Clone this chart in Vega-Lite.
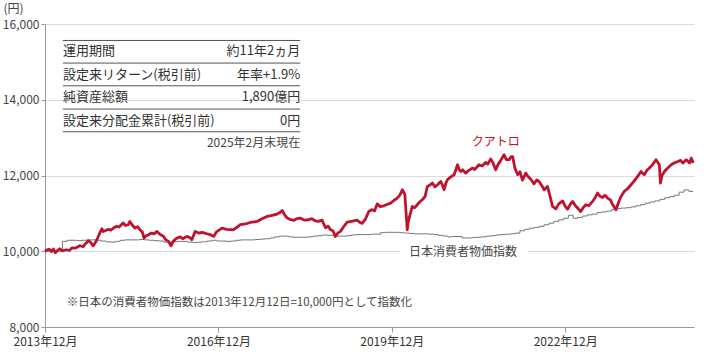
{
  "$schema": "https://vega.github.io/schema/vega-lite/v6.json",
  "width": 649,
  "height": 303,
  "autosize": {"type": "none"},
  "padding": {"left": 45, "top": 24, "right": 10, "bottom": 29},
  "config": {"view": {"stroke": null}, "font": "Noto Sans CJK JP"},
  "datasets": {
    "fund": [
      {"d": "2013-12-12", "v": 10000}, {"d": "2013-12-28", "v": 10040}, {"d": "2014-01-10", "v": 10050}, {"d": "2014-01-22", "v": 9990},
      {"d": "2014-02-03", "v": 10058}, {"d": "2014-02-15", "v": 9960}, {"d": "2014-03-01", "v": 10020}, {"d": "2014-03-15", "v": 10066},
      {"d": "2014-04-01", "v": 10010}, {"d": "2014-04-27", "v": 10040}, {"d": "2014-05-15", "v": 10020}, {"d": "2014-06-01", "v": 10090},
      {"d": "2014-06-20", "v": 10080}, {"d": "2014-07-20", "v": 10145}, {"d": "2014-08-10", "v": 10120}, {"d": "2014-08-25", "v": 10200},
      {"d": "2014-09-12", "v": 10277}, {"d": "2014-09-25", "v": 10240}, {"d": "2014-10-13", "v": 10145}, {"d": "2014-10-25", "v": 10220},
      {"d": "2014-11-05", "v": 10304}, {"d": "2014-11-20", "v": 10450}, {"d": "2014-12-06", "v": 10594}, {"d": "2014-12-15", "v": 10520},
      {"d": "2014-12-27", "v": 10541}, {"d": "2015-01-15", "v": 10580}, {"d": "2015-02-01", "v": 10560}, {"d": "2015-02-18", "v": 10612},
      {"d": "2015-03-10", "v": 10660}, {"d": "2015-03-25", "v": 10640}, {"d": "2015-04-20", "v": 10744}, {"d": "2015-05-05", "v": 10680},
      {"d": "2015-05-22", "v": 10700}, {"d": "2015-06-01", "v": 10787}, {"d": "2015-06-15", "v": 10700}, {"d": "2015-07-03", "v": 10612},
      {"d": "2015-07-20", "v": 10650}, {"d": "2015-08-04", "v": 10568}, {"d": "2015-08-20", "v": 10500}, {"d": "2015-08-30", "v": 10348},
      {"d": "2015-09-10", "v": 10400}, {"d": "2015-09-27", "v": 10436}, {"d": "2015-10-15", "v": 10480}, {"d": "2015-11-01", "v": 10460},
      {"d": "2015-11-19", "v": 10524}, {"d": "2015-12-10", "v": 10440}, {"d": "2016-01-01", "v": 10392}, {"d": "2016-01-15", "v": 10300},
      {"d": "2016-02-01", "v": 10260}, {"d": "2016-02-16", "v": 10145}, {"d": "2016-03-01", "v": 10260}, {"d": "2016-03-24", "v": 10348},
      {"d": "2016-04-15", "v": 10380}, {"d": "2016-05-01", "v": 10330}, {"d": "2016-05-26", "v": 10392}, {"d": "2016-06-15", "v": 10360},
      {"d": "2016-06-27", "v": 10304}, {"d": "2016-07-18", "v": 10524}, {"d": "2016-08-10", "v": 10480}, {"d": "2016-09-01", "v": 10500},
      {"d": "2016-09-30", "v": 10462}, {"d": "2016-10-20", "v": 10440}, {"d": "2016-11-12", "v": 10392}, {"d": "2016-12-01", "v": 10520},
      {"d": "2017-01-04", "v": 10612}, {"d": "2017-02-01", "v": 10580}, {"d": "2017-03-17", "v": 10568}, {"d": "2017-04-10", "v": 10640},
      {"d": "2017-04-29", "v": 10700}, {"d": "2017-06-01", "v": 10720}, {"d": "2017-07-01", "v": 10760}, {"d": "2017-08-13", "v": 10787},
      {"d": "2017-09-10", "v": 10850}, {"d": "2017-10-15", "v": 10919}, {"d": "2017-11-10", "v": 10940}, {"d": "2017-12-18", "v": 10982},
      {"d": "2018-01-05", "v": 11020}, {"d": "2018-01-19", "v": 11077}, {"d": "2018-02-05", "v": 10950}, {"d": "2018-02-20", "v": 10876},
      {"d": "2018-03-10", "v": 10840}, {"d": "2018-04-01", "v": 10813}, {"d": "2018-04-20", "v": 10860}, {"d": "2018-05-13", "v": 10876},
      {"d": "2018-06-10", "v": 10820}, {"d": "2018-07-05", "v": 10832}, {"d": "2018-07-25", "v": 10860}, {"d": "2018-08-17", "v": 10800},
      {"d": "2018-09-05", "v": 10790}, {"d": "2018-09-28", "v": 10820}, {"d": "2018-10-19", "v": 10620}, {"d": "2018-11-05", "v": 10660},
      {"d": "2018-11-20", "v": 10568}, {"d": "2018-12-05", "v": 10540}, {"d": "2018-12-21", "v": 10390}, {"d": "2019-01-05", "v": 10480},
      {"d": "2019-01-22", "v": 10524}, {"d": "2019-02-10", "v": 10640}, {"d": "2019-03-05", "v": 10770}, {"d": "2019-04-01", "v": 10790},
      {"d": "2019-05-07", "v": 10820}, {"d": "2019-05-25", "v": 10760}, {"d": "2019-06-08", "v": 10735}, {"d": "2019-06-29", "v": 10850},
      {"d": "2019-07-20", "v": 11050}, {"d": "2019-08-10", "v": 11100}, {"d": "2019-08-25", "v": 11060}, {"d": "2019-09-11", "v": 11250},
      {"d": "2019-10-01", "v": 11180}, {"d": "2019-10-23", "v": 11200}, {"d": "2019-11-15", "v": 11240}, {"d": "2019-12-05", "v": 11272},
      {"d": "2019-12-25", "v": 11340}, {"d": "2020-01-16", "v": 11404}, {"d": "2020-02-01", "v": 11480}, {"d": "2020-02-17", "v": 11624},
      {"d": "2020-03-04", "v": 11492}, {"d": "2020-03-12", "v": 11000}, {"d": "2020-03-19", "v": 10568}, {"d": "2020-03-26", "v": 10800},
      {"d": "2020-04-03", "v": 10919}, {"d": "2020-04-20", "v": 11183}, {"d": "2020-05-05", "v": 11150}, {"d": "2020-05-21", "v": 11228},
      {"d": "2020-06-05", "v": 11300}, {"d": "2020-06-22", "v": 11360}, {"d": "2020-07-10", "v": 11450}, {"d": "2020-07-24", "v": 11711},
      {"d": "2020-08-10", "v": 11750}, {"d": "2020-08-25", "v": 11800}, {"d": "2020-09-10", "v": 11700}, {"d": "2020-09-26", "v": 11756},
      {"d": "2020-10-17", "v": 11843}, {"d": "2020-11-01", "v": 11700}, {"d": "2020-11-07", "v": 11624}, {"d": "2020-11-18", "v": 11800},
      {"d": "2020-11-28", "v": 11888}, {"d": "2020-12-15", "v": 11950}, {"d": "2021-01-09", "v": 12020}, {"d": "2021-01-20", "v": 12150},
      {"d": "2021-01-31", "v": 12284}, {"d": "2021-02-10", "v": 12150}, {"d": "2021-02-21", "v": 12107}, {"d": "2021-03-05", "v": 12150},
      {"d": "2021-03-23", "v": 12063}, {"d": "2021-04-10", "v": 12130}, {"d": "2021-05-04", "v": 12196}, {"d": "2021-05-20", "v": 12160},
      {"d": "2021-06-15", "v": 12284}, {"d": "2021-07-05", "v": 12250}, {"d": "2021-07-27", "v": 12344}, {"d": "2021-08-10", "v": 12300},
      {"d": "2021-08-28", "v": 12434}, {"d": "2021-09-10", "v": 12350}, {"d": "2021-09-29", "v": 12152}, {"d": "2021-10-15", "v": 12300},
      {"d": "2021-10-31", "v": 12400}, {"d": "2021-11-21", "v": 12548}, {"d": "2021-12-05", "v": 12420}, {"d": "2021-12-23", "v": 12420},
      {"d": "2022-01-05", "v": 12500}, {"d": "2022-01-14", "v": 12500}, {"d": "2022-01-28", "v": 12200}, {"d": "2022-02-15", "v": 12020},
      {"d": "2022-03-01", "v": 12100}, {"d": "2022-03-17", "v": 11880}, {"d": "2022-04-07", "v": 12063}, {"d": "2022-04-20", "v": 11980},
      {"d": "2022-05-09", "v": 11900}, {"d": "2022-05-29", "v": 11780}, {"d": "2022-06-15", "v": 11880}, {"d": "2022-06-30", "v": 11843},
      {"d": "2022-07-15", "v": 11750}, {"d": "2022-08-01", "v": 11624}, {"d": "2022-08-22", "v": 11711}, {"d": "2022-09-05", "v": 11492},
      {"d": "2022-09-23", "v": 11183}, {"d": "2022-10-14", "v": 11120}, {"d": "2022-11-01", "v": 11250}, {"d": "2022-11-26", "v": 11330},
      {"d": "2022-12-10", "v": 11200}, {"d": "2022-12-27", "v": 11110}, {"d": "2023-01-15", "v": 11250}, {"d": "2023-01-28", "v": 11315},
      {"d": "2023-02-15", "v": 11200}, {"d": "2023-03-01", "v": 11140}, {"d": "2023-03-20", "v": 11051}, {"d": "2023-04-05", "v": 11150},
      {"d": "2023-04-21", "v": 11228}, {"d": "2023-05-10", "v": 11200}, {"d": "2023-06-03", "v": 11315}, {"d": "2023-06-20", "v": 11420},
      {"d": "2023-07-04", "v": 11536}, {"d": "2023-07-20", "v": 11450}, {"d": "2023-08-05", "v": 11420}, {"d": "2023-08-20", "v": 11480},
      {"d": "2023-09-06", "v": 11404}, {"d": "2023-09-25", "v": 11350}, {"d": "2023-10-08", "v": 11228}, {"d": "2023-10-29", "v": 11096},
      {"d": "2023-11-15", "v": 11300}, {"d": "2023-11-30", "v": 11448}, {"d": "2023-12-20", "v": 11579}, {"d": "2024-01-10", "v": 11650},
      {"d": "2024-02-01", "v": 11756}, {"d": "2024-02-20", "v": 11850}, {"d": "2024-03-14", "v": 11975}, {"d": "2024-04-04", "v": 12107},
      {"d": "2024-04-25", "v": 12020}, {"d": "2024-05-10", "v": 12130}, {"d": "2024-05-27", "v": 12196}, {"d": "2024-06-15", "v": 12280},
      {"d": "2024-07-08", "v": 12416}, {"d": "2024-07-29", "v": 12284}, {"d": "2024-08-05", "v": 11800}, {"d": "2024-08-15", "v": 12000},
      {"d": "2024-08-30", "v": 12107}, {"d": "2024-09-15", "v": 12180}, {"d": "2024-10-12", "v": 12284}, {"d": "2024-10-30", "v": 12330},
      {"d": "2024-11-23", "v": 12371}, {"d": "2024-12-10", "v": 12400}, {"d": "2024-12-25", "v": 12328}, {"d": "2025-01-15", "v": 12416},
      {"d": "2025-02-05", "v": 12328}, {"d": "2025-02-16", "v": 12460}, {"d": "2025-02-28", "v": 12330}
    ],
    "cpi": [
      {"d": "2013-12-12", "v": 10000}, {"d": "2014-04-01", "v": 10260}, {"d": "2014-05-01", "v": 10290}, {"d": "2014-07-01", "v": 10280},
      {"d": "2014-08-01", "v": 10290}, {"d": "2014-09-01", "v": 10300}, {"d": "2014-11-01", "v": 10290}, {"d": "2014-12-01", "v": 10270},
      {"d": "2015-01-01", "v": 10250}, {"d": "2015-02-01", "v": 10240}, {"d": "2015-03-01", "v": 10260}, {"d": "2015-04-01", "v": 10290},
      {"d": "2015-05-01", "v": 10300}, {"d": "2015-08-01", "v": 10310}, {"d": "2015-09-01", "v": 10300}, {"d": "2015-10-01", "v": 10290},
      {"d": "2015-11-01", "v": 10280}, {"d": "2015-12-01", "v": 10270}, {"d": "2016-01-01", "v": 10240}, {"d": "2016-03-01", "v": 10250},
      {"d": "2016-04-01", "v": 10260}, {"d": "2016-06-01", "v": 10240}, {"d": "2016-07-01", "v": 10230}, {"d": "2016-08-01", "v": 10240},
      {"d": "2016-09-01", "v": 10250}, {"d": "2016-10-01", "v": 10270}, {"d": "2016-11-01", "v": 10290}, {"d": "2016-12-01", "v": 10270},
      {"d": "2017-02-01", "v": 10260}, {"d": "2017-03-01", "v": 10270}, {"d": "2017-04-01", "v": 10290}, {"d": "2017-05-01", "v": 10300},
      {"d": "2017-08-01", "v": 10310}, {"d": "2017-09-01", "v": 10320}, {"d": "2017-10-01", "v": 10330}, {"d": "2017-11-01", "v": 10350},
      {"d": "2017-12-01", "v": 10380}, {"d": "2018-01-01", "v": 10400}, {"d": "2018-03-01", "v": 10380}, {"d": "2018-04-01", "v": 10370},
      {"d": "2018-07-01", "v": 10380}, {"d": "2018-08-01", "v": 10400}, {"d": "2018-09-01", "v": 10410}, {"d": "2018-10-01", "v": 10430},
      {"d": "2018-11-01", "v": 10420}, {"d": "2018-12-01", "v": 10410}, {"d": "2019-01-01", "v": 10400}, {"d": "2019-03-01", "v": 10410},
      {"d": "2019-04-01", "v": 10430}, {"d": "2019-05-01", "v": 10440}, {"d": "2019-08-01", "v": 10450}, {"d": "2019-10-01", "v": 10490},
      {"d": "2019-11-01", "v": 10500}, {"d": "2020-02-01", "v": 10490}, {"d": "2020-03-01", "v": 10480}, {"d": "2020-04-01", "v": 10470},
      {"d": "2020-05-01", "v": 10460}, {"d": "2020-08-01", "v": 10450}, {"d": "2020-09-01", "v": 10440}, {"d": "2020-10-01", "v": 10420},
      {"d": "2020-11-01", "v": 10400}, {"d": "2020-12-01", "v": 10380}, {"d": "2021-01-01", "v": 10390}, {"d": "2021-03-01", "v": 10350},
      {"d": "2021-05-01", "v": 10360}, {"d": "2021-06-01", "v": 10370}, {"d": "2021-07-01", "v": 10380}, {"d": "2021-08-01", "v": 10400},
      {"d": "2021-09-01", "v": 10410}, {"d": "2021-10-01", "v": 10430}, {"d": "2021-11-01", "v": 10440}, {"d": "2021-12-01", "v": 10450},
      {"d": "2022-01-01", "v": 10460}, {"d": "2022-02-01", "v": 10480}, {"d": "2022-03-01", "v": 10540}, {"d": "2022-04-01", "v": 10580},
      {"d": "2022-05-01", "v": 10610}, {"d": "2022-06-01", "v": 10630}, {"d": "2022-07-01", "v": 10660}, {"d": "2022-08-01", "v": 10700},
      {"d": "2022-09-01", "v": 10740}, {"d": "2022-10-01", "v": 10790}, {"d": "2022-11-01", "v": 10830}, {"d": "2022-12-01", "v": 10870},
      {"d": "2023-01-01", "v": 10950}, {"d": "2023-02-01", "v": 10870}, {"d": "2023-03-01", "v": 10890}, {"d": "2023-04-01", "v": 10930},
      {"d": "2023-05-01", "v": 10960}, {"d": "2023-06-01", "v": 10980}, {"d": "2023-07-01", "v": 11020}, {"d": "2023-08-01", "v": 11040},
      {"d": "2023-09-01", "v": 11060}, {"d": "2023-10-01", "v": 11100}, {"d": "2023-11-01", "v": 11130}, {"d": "2023-12-01", "v": 11140},
      {"d": "2024-01-01", "v": 11150}, {"d": "2024-02-01", "v": 11170}, {"d": "2024-03-01", "v": 11200}, {"d": "2024-04-01", "v": 11230},
      {"d": "2024-05-01", "v": 11270}, {"d": "2024-06-01", "v": 11300}, {"d": "2024-07-01", "v": 11330}, {"d": "2024-08-01", "v": 11370},
      {"d": "2024-09-01", "v": 11410}, {"d": "2024-10-01", "v": 11440}, {"d": "2024-11-01", "v": 11480}, {"d": "2024-12-01", "v": 11560},
      {"d": "2025-01-01", "v": 11620}, {"d": "2025-02-01", "v": 11580}, {"d": "2025-02-28", "v": 11580}
    ],
    "tableLines": [
      {"d1": "2014-04-04", "d2": "2018-05-13", "v": 15565},
      {"d1": "2014-04-04", "d2": "2018-05-13", "v": 14968},
      {"d1": "2014-04-04", "d2": "2018-05-13", "v": 14369},
      {"d1": "2014-04-04", "d2": "2018-05-13", "v": 13754},
      {"d1": "2014-04-04", "d2": "2018-05-13", "v": 13155}
    ],
    "tableLeft": [
      {"d": "2014-04-04", "v": 15275, "t": "運用期間"},
      {"d": "2014-04-04", "v": 14660, "t": "設定来リターン(税引前)"},
      {"d": "2014-04-04", "v": 14060, "t": "純資産総額"},
      {"d": "2014-04-04", "v": 13450, "t": "設定来分配金累計(税引前)"}
    ],
    "tableRight": [
      {"d": "2018-05-13", "v": 15275, "t": "約11年2ヵ月"},
      {"d": "2018-05-13", "v": 14660, "t": "年率+1.9%"},
      {"d": "2018-05-13", "v": 14060, "t": "1,890億円"},
      {"d": "2018-05-13", "v": 13450, "t": "0円"}
    ],
    "asof": [{"d": "2018-05-13", "v": 12845, "t": "2025年2月末現在"}],
    "fundLabel": [{"d": "2021-09-29", "v": 12884, "t": "クアトロ"}],
    "cpiBox": [{"d1": "2020-02-05", "d2": "2022-04-19", "v1": 9776, "v2": 10198}],
    "cpiLabel": [{"d": "2021-03-07", "v": 9968, "t": "日本消費者物価指数"}],
    "note": [{"d": "2014-04-29", "v": 8640, "t": "※日本の消費者物価指数は2013年12月12日=10,000円として指数化"}]
  },
  "encoding": {
    "x": {
      "field": "d", "type": "temporal",
      "scale": {"domain": [{"year": 2013, "month": 12, "date": 12}, {"year": 2025, "month": 3, "date": 5}]},
      "axis": {
        "title": null, "grid": false, "format": "%Y年%-m月",
        "values": [{"year": 2013, "month": 12, "date": 12}, {"year": 2016, "month": 12, "date": 12}, {"year": 2019, "month": 12, "date": 12}, {"year": 2022, "month": 12, "date": 12}],
        "labelFontSize": 12, "labelColor": "#333", "domainColor": "#999", "tickColor": "#999", "tickSize": 5, "labelPadding": 4, "labelFlush": false
      }
    },
    "y": {
      "field": "v", "type": "quantitative",
      "scale": {"domain": [8000, 16000], "nice": false, "zero": false},
      "axis": {
        "title": "(円)", "titleAngle": 0, "titleAlign": "left", "titleBaseline": "middle", "titleX": -42, "titleY": -16,
        "titleFontSize": 12, "titleFontWeight": "normal", "titleColor": "#444",
        "values": [8000, 10000, 12000, 14000, 16000], "format": ",d",
        "labelFontSize": 12, "labelColor": "#444", "domainColor": "#999", "tickColor": "#999", "tickSize": 4, "labelPadding": 2,
        "gridColor": "#dcdcdc", "gridWidth": 1
      }
    }
  },
  "layer": [
    {
      "data": {"name": "cpiBox"},
      "mark": {"type": "rect", "fill": "white"},
      "encoding": {"x": {"field": "d1", "type": "temporal"}, "x2": {"field": "d2"}, "y": {"field": "v1", "type": "quantitative"}, "y2": {"field": "v2"}}
    },
    {
      "data": {"name": "cpi"},
      "mark": {"type": "line", "color": "#777777", "strokeWidth": 1, "interpolate": "step-after"}
    },
    {
      "data": {"name": "fund"},
      "mark": {"type": "line", "color": "#c0122f", "strokeWidth": 2.8, "strokeJoin": "round"}
    },
    {
      "data": {"name": "tableLines"},
      "mark": {"type": "rule", "color": "#555", "strokeWidth": 1},
      "encoding": {"x": {"field": "d1", "type": "temporal"}, "x2": {"field": "d2"}, "y": {"field": "v", "type": "quantitative"}}
    },
    {
      "data": {"name": "tableLeft"},
      "mark": {"type": "text", "align": "left", "baseline": "middle", "fontSize": 13, "color": "#333"},
      "encoding": {"text": {"field": "t"}}
    },
    {
      "data": {"name": "tableRight"},
      "mark": {"type": "text", "align": "right", "baseline": "middle", "fontSize": 13, "color": "#333"},
      "encoding": {"text": {"field": "t"}}
    },
    {
      "data": {"name": "asof"},
      "mark": {"type": "text", "align": "right", "baseline": "middle", "fontSize": 12, "color": "#444"},
      "encoding": {"text": {"field": "t"}}
    },
    {
      "data": {"name": "fundLabel"},
      "mark": {"type": "text", "align": "center", "baseline": "middle", "fontSize": 12, "color": "#c0122f"},
      "encoding": {"text": {"field": "t"}}
    },
    {
      "data": {"name": "cpiLabel"},
      "mark": {"type": "text", "align": "center", "baseline": "middle", "fontSize": 12, "color": "#444"},
      "encoding": {"text": {"field": "t"}}
    },
    {
      "data": {"name": "note"},
      "mark": {"type": "text", "align": "left", "baseline": "middle", "fontSize": 11.5, "color": "#444"},
      "encoding": {"text": {"field": "t"}}
    }
  ]
}
